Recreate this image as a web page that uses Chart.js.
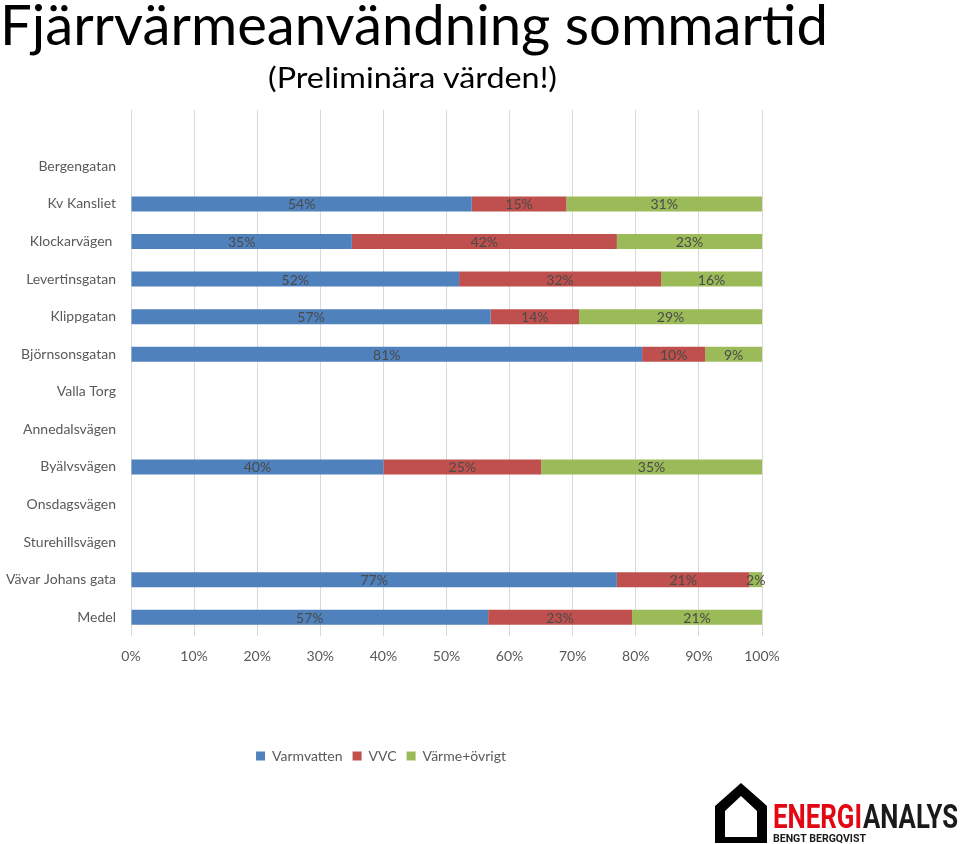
<!DOCTYPE html>
<html>
<head>
<meta charset="utf-8">
<script src="https://cdn.jsdelivr.net/npm/chart.js@4.4.1/dist/chart.umd.min.js"></script>
<style>
  html, body { margin: 0; padding: 0; background: #fff; }
  #wrap { position: relative; width: 960px; height: 844px; overflow: hidden; }
  #c { position: absolute; left: 0; top: 0; }
  svg.ov { position: absolute; left: 0; top: 0; }
</style>
</head>
<body>
<div id="wrap">
  <canvas id="c" width="960" height="844"></canvas>
  <svg class="ov" width="960" height="844" xmlns="http://www.w3.org/2000/svg">
    <text x="0" y="45" font-family="Lato, 'Open Sans', sans-serif" font-size="57" fill="#000" textLength="828" lengthAdjust="spacingAndGlyphs">Fjärrvärmeanvändning sommartid</text>
    <text x="268" y="88" font-family="Lato, 'Open Sans', sans-serif" font-size="28" fill="#000" textLength="289" lengthAdjust="spacingAndGlyphs">(Preliminära värden!)</text>
    <path d="M741 783 L767 806 L767 843 L715 843 L715 806 Z M741 796 L725 811 L725 837 L757 837 L757 811 Z" fill="#000" fill-rule="evenodd"/>
    <text x="773" y="828" font-family="Roboto, 'DejaVu Sans', sans-serif" font-weight="bold" font-size="34" fill="#e30613" textLength="89" lengthAdjust="spacingAndGlyphs">ENERGI</text>
    <text x="863" y="828" font-family="Roboto, 'DejaVu Sans', sans-serif" font-weight="bold" font-size="34" fill="#1a1a1a" textLength="95" lengthAdjust="spacingAndGlyphs">ANALYS</text>
    <text x="773" y="842" font-family="Roboto, 'DejaVu Sans', sans-serif" font-weight="bold" font-size="11" fill="#1a1a1a" textLength="93" lengthAdjust="spacingAndGlyphs">BENGT BERGQVIST</text>
  </svg>
</div>
<script>
const categories = ['', 'Bergengatan', 'Kv Kansliet', 'Klockarvägen ', 'Levertinsgatan', 'Klippgatan', 'Björnsonsgatan', 'Valla Torg', 'Annedalsvägen', 'Byälvsvägen', 'Onsdagsvägen', 'Sturehillsvägen', 'Vävar Johans gata', 'Medel'];
const varmvatten = [null, null, 54, 35, 52, 57, 81, null, null, 40, null, null, 77, 56.6];
const vvc = [null, null, 15, 42, 32, 14, 10, null, null, 25, null, null, 21, 22.8];
const varmeOvrigt = [null, null, 31, 23, 16, 29, 9, null, null, 35, null, null, 2, 20.6];
const xTicks = [0, 10, 20, 30, 40, 50, 60, 70, 80, 90, 100];

const FONT = "Lato, 'Open Sans', sans-serif";

const segLabels = {
  id: 'segLabels',
  afterDatasetsDraw(chart) {
    const ctx = chart.ctx;
    ctx.save();
    ctx.font = '14px ' + FONT;
    ctx.fillStyle = '#4a4a4a';
    ctx.textAlign = 'center';
    ctx.textBaseline = 'middle';
    chart.data.datasets.forEach((ds, di) => {
      const meta = chart.getDatasetMeta(di);
      meta.data.forEach((el, i) => {
        const v = ds.data[i];
        if (v === null || v === undefined) return;
        const cx = (el.x + el.base) / 2;
        ctx.fillText(Math.round(v) + '%', cx, el.y + 1);
      });
    });
    ctx.restore();
  }
};

new Chart(document.getElementById('c'), {
  type: 'bar',
  data: {
    labels: categories,
    datasets: [
      { label: 'Varmvatten', data: varmvatten, backgroundColor: '#4f81bd' },
      { label: 'VVC', data: vvc, backgroundColor: '#c0504d' },
      { label: 'Värme+övrigt', data: varmeOvrigt, backgroundColor: '#9bbb59' }
    ]
  },
  options: {
    indexAxis: 'y',
    responsive: false,
    animation: false,
    devicePixelRatio: 1,
    datasets: { bar: { categoryPercentage: 1, barPercentage: 0.4 } },
    layout: { padding: { top: 110, left: 0, right: 198, bottom: 71 } },
    plugins: {
      tooltip: { enabled: false },
      legend: {
        position: 'bottom',
        labels: {
          boxWidth: 9, boxHeight: 9, padding: 10,
          color: '#595959',
          font: { family: FONT, size: 14 }
        }
      }
    },
    scales: {
      x: {
        stacked: true, min: 0, max: 100,
        afterBuildTicks(s) { s.ticks = xTicks.map(v => ({ value: v })); },
        afterFit(s) { s.height = 103; s.paddingRight = 0; },
        grid: { color: '#d9d9d9', drawTicks: false },
        border: { display: false },
        ticks: { padding: 12, color: '#595959', font: { family: FONT, size: 14 }, callback: v => v + '%' }
      },
      y: {
        stacked: true,
        afterFit(s) { s.width = 131; },
        grid: { display: false, drawTicks: false },
        border: { display: false },
        ticks: { padding: 15, color: '#595959', font: { family: FONT, size: 14 }, autoSkip: false }
      }
    }
  },
  plugins: [segLabels]
});
</script>
</body>
</html>
